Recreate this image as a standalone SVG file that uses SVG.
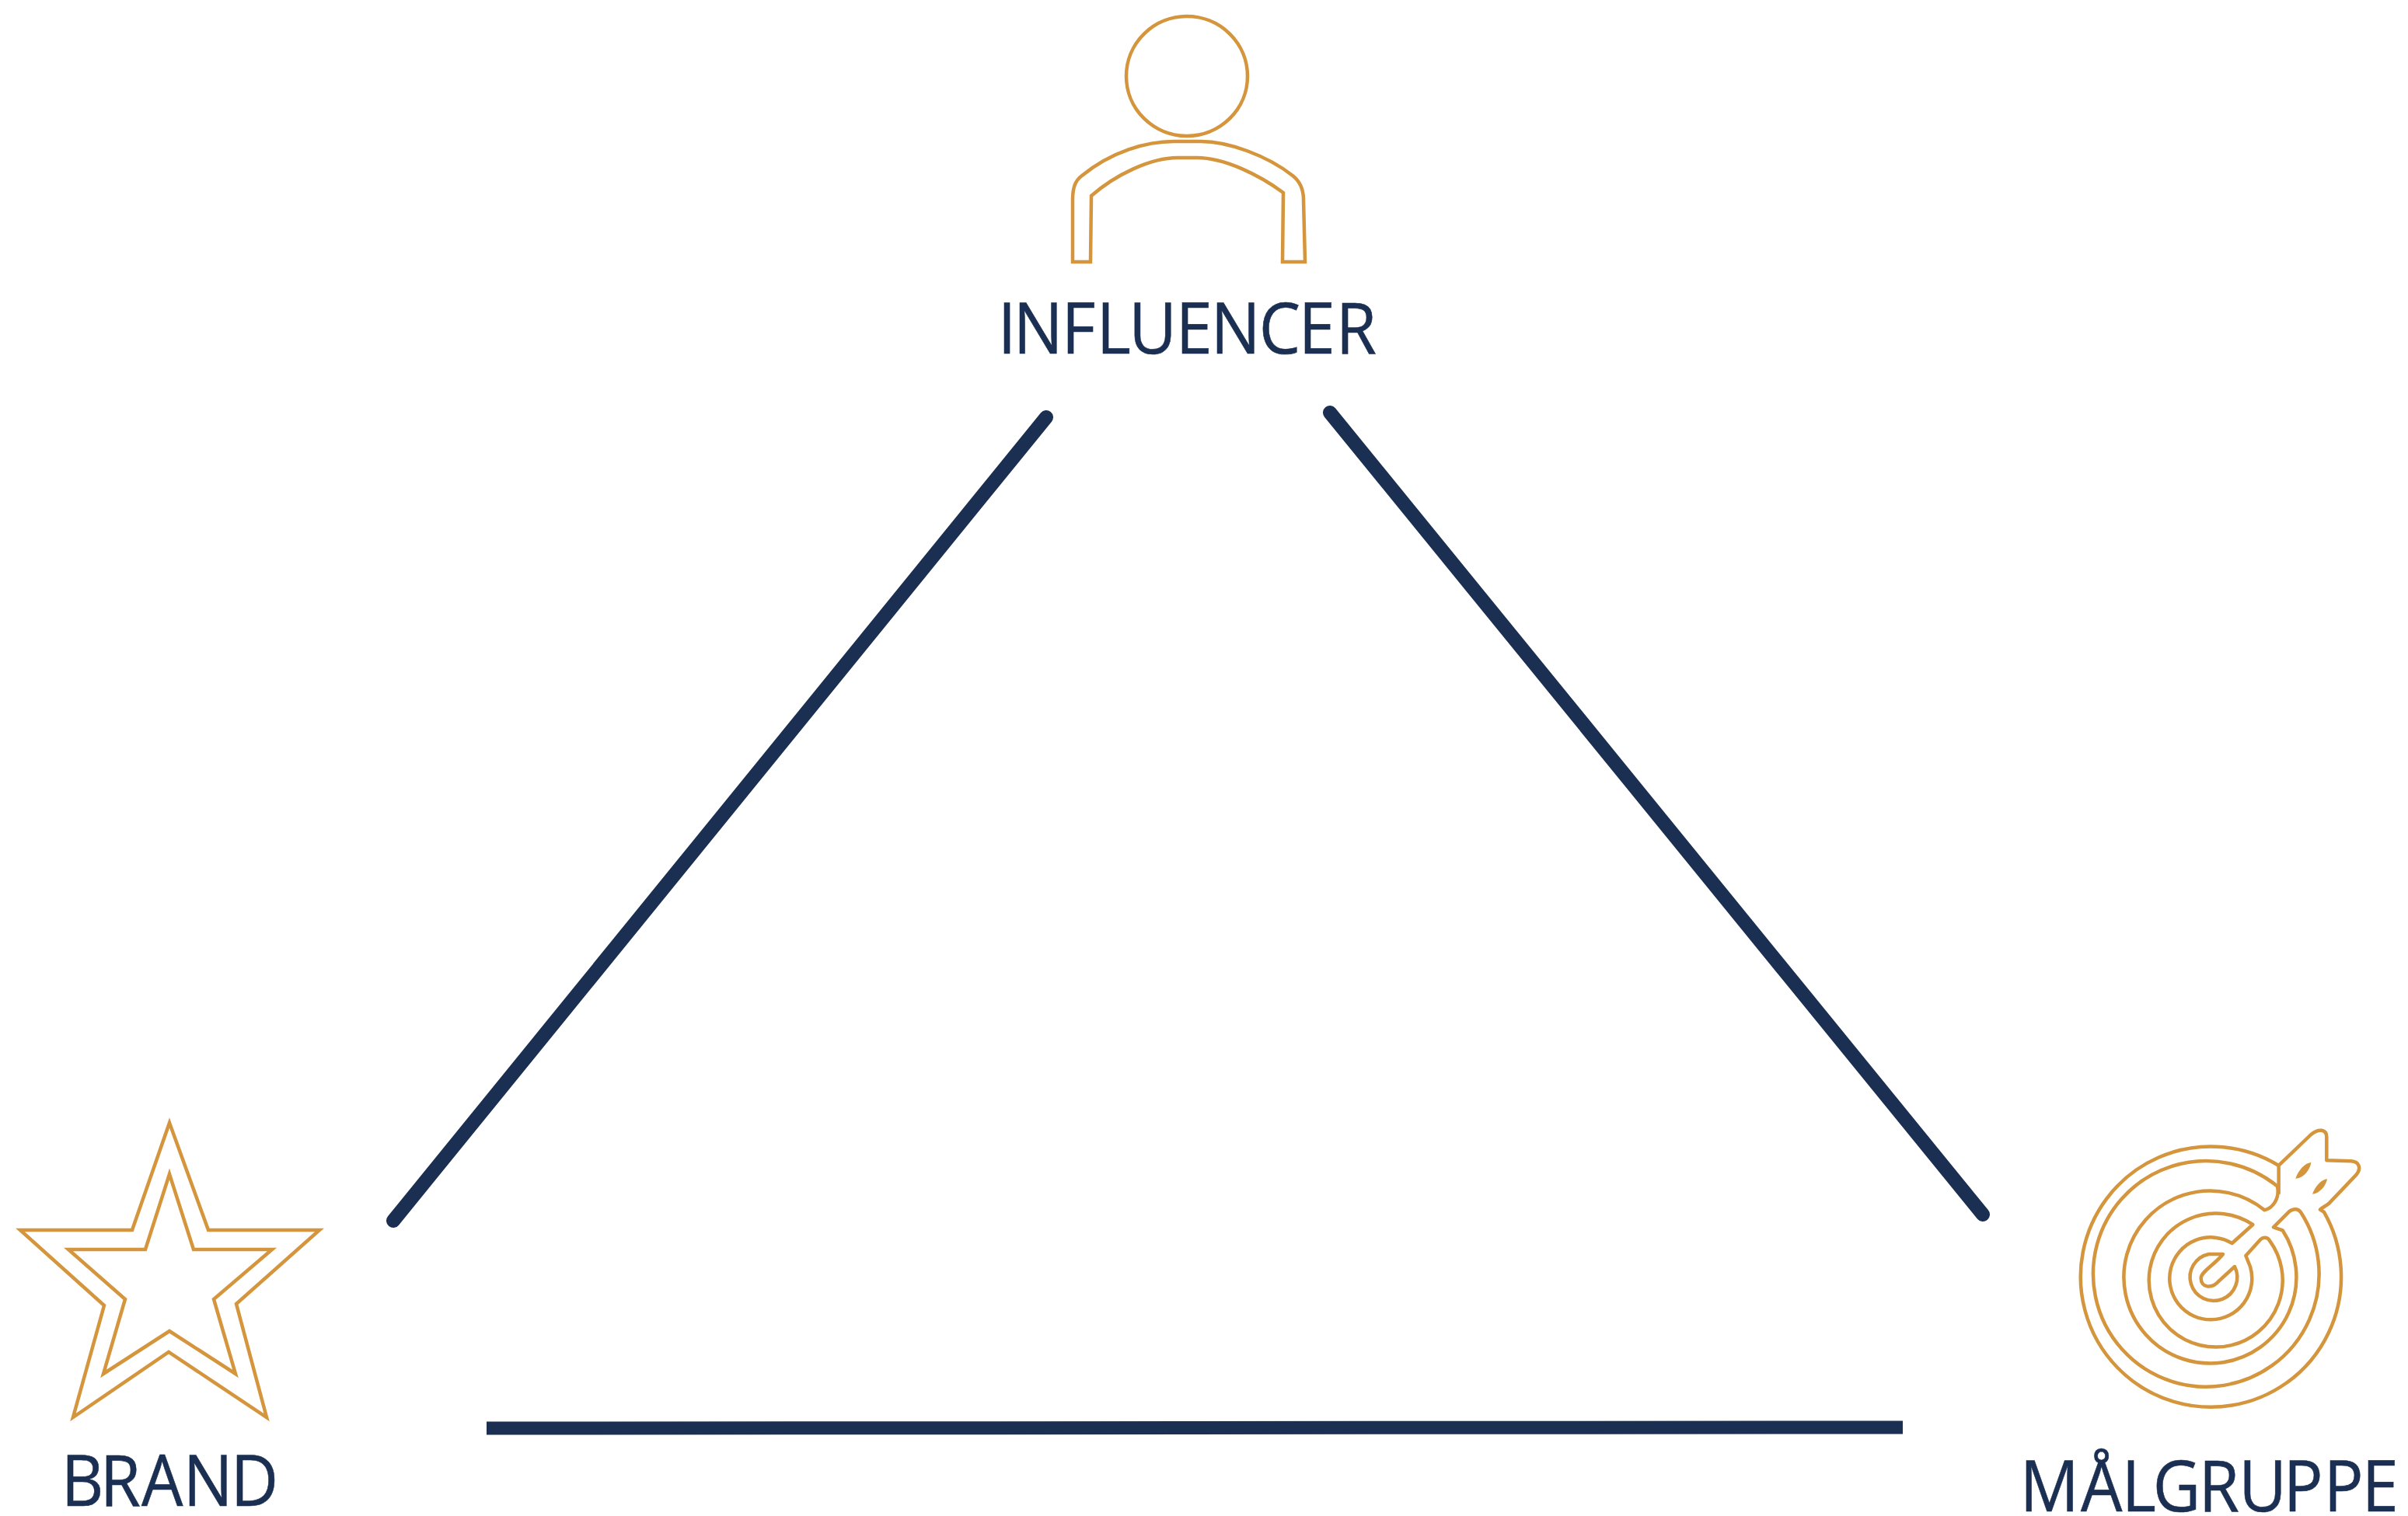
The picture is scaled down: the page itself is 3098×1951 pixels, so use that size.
<svg xmlns="http://www.w3.org/2000/svg" width="3098" height="1951" viewBox="0 0 3098 1951">
<style>
.icon{fill:none;stroke:#D4953C;stroke-width:4.5;stroke-linejoin:miter}
.t{fill:none;stroke:#D4953C;stroke-width:13.5;stroke-linejoin:round}
.slit{fill:#D4953C}
.lbl{font-family:"Open Sans","Noto Sans",sans-serif;font-size:91px;fill:#1B2F52;stroke:#1B2F52;stroke-width:.6}
.edge{fill:none;stroke:#1B2F52;stroke-width:18;stroke-linecap:round}
</style>
<rect width="3098" height="1951" fill="#fff"/>
<g id="connectors">
<path class="edge" d="M1346 537L506 1571"/>
<path class="edge" d="M1711 531L2551 1563"/>
<path class="edge" style="stroke-width:17;stroke-linecap:butt" d="M626 1838L2448 1837"/>
</g>
<g id="influencer">
<ellipse class="icon" cx="1527" cy="98" rx="78" ry="77"/>
<path class="icon" d="M1380 337V257C1380 240 1384 232 1392 226C1430 195 1475 182 1510 182H1545C1580 182 1630 200 1663 226C1672 233 1677 243 1677 257L1679 337H1650L1651 248C1620 225 1575 203 1540 203H1515C1480 203 1435 225 1404 252L1403 337Z"/>
<text class="lbl" transform="scale(.93 1)" y="455" x="1380.3 1401.9 1468.5 1516.9 1561.5 1626.6 1675 1741.7 1796.5 1848.1">INFLUENCER</text>
</g>
<g id="brand">
<path class="icon" d="M218 1445L268 1583H411L304 1678L343 1824L217 1740L94 1824L134 1680L26 1583H170Z"/>
<path class="icon" d="M218 1511L249 1608H350L275 1672L303 1768L218 1713L133 1768L161 1672L88 1608H187Z"/>
<text class="lbl" transform="scale(.93 1)" y="1938" x="84.6 138.4 195.7 253.5 319.1">BRAND</text>
</g>
<g id="malgruppe">
<g transform="translate(2660 1440) scale(.3333)">
<path class="t" d="M815 180A503 503 0 1 0 990 360L975 350C985 340 1000 335 1010 325L1115 215C1135 190 1125 165 1095 163L1000 160V70C1000 40 970 35 940 60L815 180V290"/>
<path class="t" d="M810 260A436 436 0 1 0 900 360C890 345 870 345 855 358L795 418L830 430A333 333 0 1 1 760 352C790 345 820 310 810 260Z"/>
<path class="t" d="M715 408A258 258 0 1 0 780 470C772 455 755 455 745 465L688 528L705 570A159 159 0 1 1 635 480Z"/>
<path class="t" d="M600 522H545A91 91 0 1 0 645 570L585 625C555 660 515 650 515 615C515 590 565 565 600 522Z"/>
<path class="slit" d="M880 230C890 200 915 170 940 168C937 195 910 230 880 230Z"/>
<path class="slit" d="M945 290C955 262 978 235 1002 232C998 258 972 288 945 290Z"/>
</g>
<text class="lbl" transform="scale(.93 1)" y="1945" x="2794.3 2878.5 2935.2 2978.3 3041.6 3097 3158.8 3214.8 3267.4">MÅLGRUPPE</text>
</g>
</svg>
